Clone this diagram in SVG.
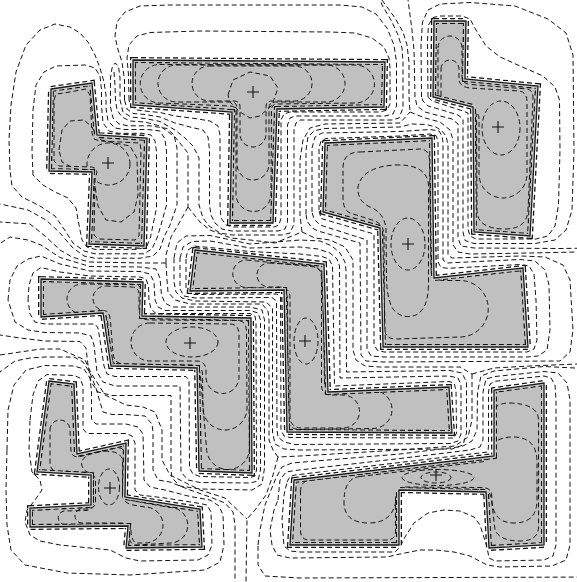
<svg xmlns="http://www.w3.org/2000/svg" width="577" height="582" viewBox="0 0 577 582">
<defs>
<style>
.c{fill:none;stroke:#141414;stroke-width:1;stroke-dasharray:5 3;stroke-linejoin:round}
.i{fill:none;stroke:#141414;stroke-width:1;stroke-dasharray:5 3;stroke-linejoin:round}
.f{fill:#c0c0c0;stroke:none}
.hug{fill:none;stroke:#141414;stroke-width:6;stroke-dasharray:5 3}
.cw{fill:none;stroke:#fff;stroke-width:3.4}
.cg{fill:none;stroke:#c0c0c0;stroke-width:3.4}
.e{fill:none;stroke:#1a1a1a;stroke-width:1.3}
.p{fill:none;stroke:#111;stroke-width:1.1}
</style>
<path id="pA" d="M51,89 L92,83 L97,135 L147,138 L144,246 L89,244 L92,172 L49,171 Z"/>
<path id="pB" d="M133,60 L385,62 L384,107 L277,109 L273,223 L230,223 L232,112 L133,105 Z"/>
<path id="pC" d="M434,21 L466,21 L465,79 L538,86 L530,236 L474,232 L473,107 L433,97 Z"/>
<path id="pD" d="M325,143 L432,138 L434,278 L523,268 L528,347 L383,347 L380,228 L323,212 Z"/>
<path id="pE" d="M195,250 L324,264 L328,392 L449,387 L452,433 L287,432 L284,290 L190,291 Z"/>
<path id="pF" d="M41,279 L143,282 L142,316 L251,318 L252,473 L199,471 L197,368 L111,366 L103,313 L41,317 Z"/>
<path id="pG" d="M49,381 L74,384 L77,454 L126,443 L125,497 L200,509 L202,547 L126,548 L128,526 L30,527 L30,508 L91,505 L91,475 L37,472 Z"/>
<path id="pH" d="M294,480 L494,456 L494,390 L544,383 L544,545 L489,548 L486,492 L399,490 L399,545 L290,545 Z"/>
<clipPath id="kA"><use href="#pA"/></clipPath>
<clipPath id="kB"><use href="#pB"/></clipPath>
<clipPath id="kC"><use href="#pC"/></clipPath>
<clipPath id="kD"><use href="#pD"/></clipPath>
<clipPath id="kE"><use href="#pE"/></clipPath>
<clipPath id="kF"><use href="#pF"/></clipPath>
<clipPath id="kG"><use href="#pG"/></clipPath>
<clipPath id="kH"><use href="#pH"/></clipPath>
</defs>
<rect width="577" height="582" fill="#fff"/>
<g id="contours">
<path class="c" d="M114,72 L115,85 L115.5,100 L117,110 L122,117 L130,121 L145,122 L160,126 L175,137 L188,153 L188,207"/>
<path class="c" d="M188,207 L200,222 L210,230 L231,238 L250,240 L275,243 L302,232"/>
<path class="c" d="M188,207 L178,225 L171,237 L166,255 L166,263"/>
<path class="c" d="M166,263 L143,263 L89,262 L72,257 L60,250 L45,236 L30,224 L0,222"/>
<path class="c" d="M166,263 L167,280 L168,292 L175,300 L190,304 L262,304 L268,311 L269,320 L269,440 L273,450 L278,457"/>
<path class="c" d="M302,232 L300,215 L300,160 L303,140 L310,128 L325,124 L400,123 L410,112"/>
<path class="c" d="M382,0 L395,18 L403,32 L407,45 L409,62 L409,97 L410,112"/>
<path class="c" d="M410,112 L425,118 L440,122 L450,130 L453,140 L453,245 L458,252 L470,254 L530,253 L577,252"/>
<path class="c" d="M302,232 L315,238 L330,240 L345,247 L353,260 L353,350 L356,360 L365,366 L380,367 L460,367 L472,374"/>
<path class="c" d="M472,374 L494,368 L530,366 L577,364"/>
<path class="c" d="M472,374 L472,420 L468,437 L455,446 L400,450 L300,456 L278,457"/>
<path class="c" d="M278,457 L273,475 L266,495 L255,510 L247,519 L246,582"/>
<path class="c" d="M0,355 L20,352 L41,349 L60,349 L85,360 L91,373 L105,395 L126,405 L143,407 L155,412 L162,430 L162,460 L170,475 L200,490 L225,498 L247,519"/>
<path class="c" d="M33,175 L32,150 L33,110 L36,85 L44,72 L56,66 L85,65 L95,68 L100,76 L101.5,90 L101.5,106 L103,123 L109,131 L118,133.3 L142,133.3 L151,135 L155,141 L156.5,152 L156.5,208 L153,225 L150.5,237 L147,246 L138,249.4 L95,249.4 L87,247 L82,240 L79,225 L76,208 L68,198 L55,192 L43,185 Z"/>
<path class="c" d="M10,170 L9,140 L11,105 L16,72 L26,45 L40,30 L55,24 L70,27 L80,33 L88,42 L95,55 L100,68 L104,82 L106,95 L106,108 L108,121 L115,128 L124,129.5 L148,129.5 L160,131 L165,139 L166.5,152 L166.5,205 L161,225 L157,238 L152,249 L144,253.8 L95,253.8 L84,251 L73,243 L64,229 L55,216 L40,206 L22,197 L12,186 Z"/>
<path class="c" d="M-20,200 L0,204 L28,210 L46,220 L60,233 L72,247 L84,256 L95,258.2 L140,258.2 L153,256 L160,249 L164,237 L170,225 L177,205 L177,148 L174,135 L167,128.5 L150,125.8 L128,125.8 L119,124 L113,118 L110.5,107 L110.5,90 L110.5,78 L112,68 L115,63 L118.5,66 L120,78 L120,100 L123,112 L131,117 L145,118.5 L160,121.5 L175,130 L185,138 L193,146 L199,158 L199,205 L203,218 L209,226 L220,233 L232,235 L282,235 L290,233 L294,224 L294,130 L296,123 L300,120 L392,120 L399,118 L403,108 L403,62 L402,48 L398,35 L391,20 L382,5 L375,-20"/>
<path class="c" d="M129,100 L128.5,75 L127,58 L129,45 L137,36 L150,32.5 L200,31 L330,32 L355,33 L372,38 L384,47 L389,58 L390,68 L390,104 L387,110 L380,112 L290,112 L284,114 L281,120 L281,218 L279,225 L274,227 L233,227 L226,225 L221,218 L220,205 L220,135 L218,126 L210,121 L195,118.5 L175,116 L160,112.5 L145,111 L137,110 L131,106 Z"/>
<path class="c" d="M124.5,100 L124.5,80 L122,62 L117.5,48 L115,36 L117,22 L125,12 L140,6 L170,5 L340,5 L362,7 L376,14 L387,28 L394,45 L396.5,62 L396.5,106 L393,114 L385,116 L295,116 L290,118 L287.5,125 L287.5,222 L285,229 L278,231 L232,231 L222,229 L215,223 L211,215 L209.5,205 L209.5,150 L208,137 L203,130 L190,127 L175,123 L160,117 L145,114.5 L133,113.5 L127,109 Z"/>
<path class="c" d="M428,97 L427.5,40 L428.5,25 L433,17.5 L440,16 L462,16 L470,19 L476,30 L486,46 L500,57 L520,66 L543,76 L555,87 L559.5,100 L560,150 L558.5,205 L555,226 L548,236 L536,239 L476,239 L470,236 L468,229 L468,113 L463,111 L440,103.5 L432,101 Z"/>
<path class="c" d="M421.5,97 L421,45 L422.5,22 L428,10 L440,4 L470,2.5 L515,6 L548,19 L566,33 L573,55 L574,150 L572,210 L566,230 L555,240 L535,243.5 L474,243.5 L465,240.5 L463,232 L463,119 L458,115 L442,110 L428,106 L423,101 Z"/>
<path class="c" d="M415,97 L414,50 L412,30 L410,15 L408,0 L406,-20 L600,-20 L600,248 L560,248.5 L474,248 L461,246 L458,238 L458,124 L452,119 L440,116 L425,112 L417,106 Z"/>
<path class="c" d="M319,210 L319,148 L321,141 L326,138.5 L400,136 L430,134 L436,135.5 L438,141 L438,262 L441,267.5 L448,268.3 L520,264.5 L529,266 L534,274 L536,300 L537,340 L534,349 L527,352 L384,352 L377,350 L374,344 L374,234 L321,218.5 Z"/>
<path class="c" d="M312,212 L312,148 L315,137 L322,133 L400,131.5 L430,129.5 L439,131 L442,136 L443,142 L443,260 L447,263 L520,259.5 L535,261 L545,270 L549,285 L550,330 L547,350 L538,356 L527,357 L384,357 L371,356 L367,349 L367,240 L320,225 L314,219 Z"/>
<path class="c" d="M306,214 L306,150 L308,137 L314,131 L324,128.5 L400,127 L412,124 L426,124.5 L436,127 L442,131 L446,136 L448,145 L448,255 L452,258 L521,256 L545,257 L563,265 L570,280 L573,330 L570,352 L560,361 L384,362 L366,361 L361,355 L360,243 L318,231 L312,228 L307,221 Z"/>
<path class="c" d="M186,258 L188,250 L194,246 L250,251.5 L300,254 L322,256.5 L329,259 L332.5,266 L334.5,386 L449,381.5 L454,383 L456,390 L456.5,433 L454,438 L448,438 L290,437.5 L284,436 L281,430 L280.5,297 L277,294 L195,294.5 L188,293 L186,288 Z"/>
<path class="c" d="M180,258 L183,247 L192,241.5 L210,241 L250,248 L300,247 L318,249 L330,253 L337,259 L339.5,266 L340,378 L449,376 L458,378 L461,385 L461,434 L458,441 L450,443.5 L295,444.5 L284,442 L278,437 L277,430 L276.5,301 L272,297.5 L195,298 L184,296 L180,289 Z"/>
<path class="c" d="M174,258 L177,243 L186,236 L210,235.5 L250,244 L300,240 L320,241 L332,246 L340,253 L345,262 L346,270 L346.5,372 L450,370.5 L462,373 L466.5,382 L466.5,433 L463,445 L452,449 L300,450 L284,449 L275,444 L272.5,432 L272.5,308 L266,302 L195,301 L182,298 L176,292 L174,282 Z"/>
<path class="c" d="M28,300 L29,285 L33,273 L41,267.5 L60,272 L90,276 L140,277 L146,279 L148.5,286 L149,300 L151,309 L156,313.5 L250,313.5 L255,316 L256,322 L256.5,470 L255,476 L250,477.5 L200,476.5 L193,474 L189.5,468 L189,380 L186,376.5 L115,376.5 L107,374 L104,366 L100,340 L98,328 L95,324 L45,324 L35,322 L30,314 Z"/>
<path class="c" d="M8,300 L10,280 L17,266 L28,259 L41,256 L60,264 L90,271 L140,271.5 L150,274 L154,282 L155,300 L158,307 L165,310.5 L250,310.5 L258,313 L260.5,320 L260.5,470 L258,481 L250,483 L200,482.5 L188,480 L181,472 L180,386 L115,386 L103,382 L97,372 L94,345 L91,336 L80,333 L45,332.5 L28,330 L15,322 Z"/>
<path class="c" d="M-20,300 L-10,250 L10,237 L28,240 L41,245 L60,257.5 L90,266.5 L140,267 L156,269 L160,278 L161.5,295 L165,303 L172,307 L250,307 L262,310 L264.5,320 L264.5,468 L262,484 L252,490 L200,489 L180,486 L172,478 L171,470 L171,395.5 L112,395.5 L98,392 L91,382 L88,365 L86,348 L80,341.5 L45,341 L20,338 L0,335 L-20,334 Z"/>
<path class="c" d="M30,420 L33,395 L38,381 L47,374.5 L74,375.5 L80,378 L83,386 L83,429 L87,433.5 L126,433.5 L132,436 L135,443 L135,490 L140,495 L165,498 L200,503.5 L207,505 L211,512 L212,545 L208,555 L198,560 L140,561 L126,558 L110,550 L60,545 L40,541 L30,535 L25,522 L27,510 L35,500 L42,490 L40,480 L32,472 L29,450 Z"/>
<path class="c" d="M7,450 L8,410 L14,385 L26,370 L45,365.5 L74,366 L84,369 L90,378 L91.5,392 L91.5,419 L96,424 L126,424 L138,427 L143,434 L144,480 L150,487 L165,490 L190,496.5 L210,500 L219,506 L223,515 L224,545 L220,562 L205,570 L130,575 L67,573 L25,565 L11,550 L7,525 L6,490 Z"/>
<path class="c" d="M-20,400 L0,372 L15,361 L30,358 L45,357 L74,357 L83,362 L90,373 L96,388 L100,402 L103,412 L112,414.5 L126,414.5 L145,416 L152,424 L153,432 L153,470 L158,480 L170,482 L190,490 L210,497 L225,503 L233,512 L235,525 L235,600 L-20,600 Z"/>
<path class="c" d="M287,482 L290,476.5 L295,475 L400,462.5 L488,452 L488.5,445 L488.5,392 L490,384 L495,381.3 L544,376 L551,378 L555,385 L556,400 L556,545 L553,556 L544,560 L495,561 L489,558 L487,547 L480,525 L474,517 L460,511 L444,510 L428,513 L414,523 L405,537 L400,547 L395,552 L300,552 L290,551 L284,546 L282,520 L284,495 Z"/>
<path class="c" d="M278,500 L280,480 L286,472 L295,470.5 L400,458.5 L470,450 L480,447 L483,440 L483,392 L486,379 L495,376.5 L544,371.5 L558,373 L567,383 L570,400 L570,545 L566,560 L552,566 L500,567 L487,565 L470,556 L454,552 L436,550 L420,550 L400,554 L387,557 L290,558 L277,555 L272,545 L270,530 L274,510 Z"/>
<path class="c" d="M258,545 L260,530 L265,505 L271,490 L276,478 L282,467 L292,463 L400,454 L462,446.5 L472,441 L477,430 L477.5,392 L481,376 L494,371 L544,366.5 L575,368 L600,380 L600,577 L300,578 L265,576 L258,565 Z"/>
</g>
<g id="region-A">
<use href="#pA" class="f"/>
<g clip-path="url(#kA)">
<ellipse class="i" cx="108.5" cy="164" rx="21.5" ry="21"/>
<path class="i" d="M59,150 L62,130 L70,121 L84,120 L92,127 L96,135 L101,140 L115,143 L130,146 L137,158 L138,195 L134,212 L121,222 L106,220 L98,206 L95,186 L89,173 L73,168 L62,162 Z"/>
<path class="i" d="M54,100 L56,94 L64,93 L86,89 L90,95 L92,133 L94,139 L100,141 L140,143 L141,150 L139,236 L135,240 L98,239 L94,235 L95,180 L97,172 L95.5,168.5 L92,167 L59,166 L54,161 Z"/>
</g>
<use href="#pA" class="hug"/><use href="#pA" class="cw"/>
<g clip-path="url(#kA)"><use href="#pA" class="cg"/></g>
<use href="#pA" class="e"/>
<path class="p" d="M102,163 H114 M108,157 V169"/>
</g>
<g id="region-B">
<use href="#pB" class="f"/>
<g clip-path="url(#kB)">
<path class="i" d="M228,95 L233,80 L250,72 L270,76 L278,88 L272,105 L260,116 L250,118 L240,112 L230,102 Z"/>
<path class="i" d="M209.5,66 L294.5,66 A17.5 17.5 0 0 1 294.5,101 L272,101 Q266,101 266,107 L266,134 A13 13 0 0 1 240,134 L240,107 Q240,101 234,101 L209.5,101 A17.5 17.5 0 0 1 209.5,66 Z"/>
<path class="i" d="M176.5,65 L326.5,65 A18.5 18.5 0 0 1 326.5,102 L275,102 Q269,102 269,108 L269,164 A16 16 0 0 1 237,164 L237,108 Q237,102 231,102 L176.5,102 A18.5 18.5 0 0 1 176.5,65 Z"/>
<path class="i" d="M159.5,64.5 L355.5,65 A19 19 0 0 1 355.5,103 L277,104 Q271.5,104 271.5,110 L271,194 A17.5 17.5 0 0 1 236,194 L236,112 Q236,106 230,106 L159.5,103 A19.25 19.25 0 0 1 159.5,64.5 Z"/>
</g>
<use href="#pB" class="hug"/><use href="#pB" class="cw"/>
<g clip-path="url(#kB)"><use href="#pB" class="cg"/></g>
<use href="#pB" class="e"/>
<path class="p" d="M247,92 H259 M253,86 V98"/>
</g>
<g id="region-C">
<use href="#pC" class="f"/>
<g clip-path="url(#kC)">
<ellipse class="i" cx="501" cy="128" rx="19" ry="27"/>
<path class="i" d="M441,69 A9 9 0 0 1 459,69 L459,80 Q460,87 470,88 L519,91 Q527,92 527,102 L527,174 A24 24 0 0 1 479,174 L479,118 Q478.5,111 470,109 L447,103 Q441,101 441,94 Z"/>
<path class="i" d="M438,48 A12 12 0 0 1 462,48 L462,78 Q463,84 471,84.5 L527,89 Q533,90 533,98 L528,210 Q527,229 505,229 Q477,229 477,210 L476.5,116 Q476,110.5 469,109 L444,102 Q438,100 438,92 Z"/>
</g>
<use href="#pC" class="hug"/><use href="#pC" class="cw"/>
<g clip-path="url(#kC)"><use href="#pC" class="cg"/></g>
<use href="#pC" class="e"/>
<path class="p" d="M492,127 H504 M498,121 V133"/>
</g>
<g id="region-D">
<use href="#pD" class="f"/>
<g clip-path="url(#kD)">
<ellipse class="i" cx="408" cy="244" rx="17" ry="26"/>
<path class="i" d="M395,165 Q427,164 428.5,185 L428.5,285 Q428,309 416,315 Q402,320 393,309 Q386.5,298 386.5,276 L386,230 Q385,213 370,207 Q357,201 358,187 Q362,167 395,165 Z"/>
<path class="i" d="M360,152 L420,149 Q429,149 429.5,160 L431,268 Q432,280 443,280.5 L460,280.5 A28.25 28.25 0 0 1 460,337 L396,339 Q384.5,339 384.5,328 L384,235 Q383.5,223 372,220 L350,213 Q343,210 343,197 L343,168 Q343,152 360,152 Z"/>
</g>
<use href="#pD" class="hug"/><use href="#pD" class="cw"/>
<g clip-path="url(#kD)"><use href="#pD" class="cg"/></g>
<use href="#pD" class="e"/>
<path class="p" d="M402,244 H414 M408,238 V250"/>
</g>
<g id="region-E">
<use href="#pE" class="f"/>
<g clip-path="url(#kE)">
<ellipse class="i" cx="306" cy="341" rx="12" ry="23"/>
<path class="i" d="M269,263 L310,265.5 Q321.5,266.5 321.5,278 L321.5,385 Q321.5,395 331,395 L343,395 A16.5 16.5 0 0 1 343,428 L302,428 Q290,428 290,416 L290,298 Q290,287 279,287 L269,287 A12 12 0 0 1 269,263 Z"/>
<path class="i" d="M246.5,260 L311,266.5 Q323,267.5 323,280 L324.5,381 Q324.5,391 334,391 L373,390.5 A19 19 0 0 1 373,428.5 L300,429.5 Q288,429.5 288,418 L287.5,299 Q287.5,289 277,289 L246.5,287.5 A13.75 13.75 0 0 1 246.5,260 Z"/>
</g>
<use href="#pE" class="hug"/><use href="#pE" class="cw"/>
<g clip-path="url(#kE)"><use href="#pE" class="cg"/></g>
<use href="#pE" class="e"/>
<path class="p" d="M299,341 H311 M305,335 V347"/>
</g>
<g id="region-F">
<use href="#pF" class="f"/>
<g clip-path="url(#kF)">
<ellipse class="i" cx="192" cy="342" rx="26" ry="15"/>
<path class="i" d="M150,323 L230,324 Q239,324 239,335 L239,377 A16.5 16.5 0 0 1 206,377 L206,370 Q205.5,361 196,361 L150,361 A19 19 0 0 1 150,323 Z"/>
<path class="i" d="M105.5,286 L132,287 Q139,287 139,295 L139,311 Q140,320 150,320 L238,320.5 Q246.5,321 246.5,332 L247,408 A22 22 0 0 1 203,408 L202.5,374 Q202,365 192,365 L124,364 Q114,364 113,353 L110.5,322 Q109.5,311 105.5,311 A12.5 12.5 0 0 1 105.5,286 Z"/>
<path class="i" d="M82,284 L135,284.5 Q141,285 141,291 L141,313 Q141.5,318.5 148,318.5 L243,319 Q249.5,319.5 249.5,327 L249.5,448 A21.5 21.5 0 0 1 206.5,448 L200.5,376 Q200,366.5 190,366.5 L121,365.5 Q111.5,365.5 110.5,354 L107.5,320 Q106.5,314 100,314 L82,314 A15 15 0 0 1 82,284 Z"/>
</g>
<use href="#pF" class="hug"/><use href="#pF" class="cw"/>
<g clip-path="url(#kF)"><use href="#pF" class="cg"/></g>
<use href="#pF" class="e"/>
<path class="p" d="M184,343 H196 M190,337 V349"/>
</g>
<g id="region-G">
<use href="#pG" class="f"/>
<g clip-path="url(#kG)">
<ellipse class="i" cx="109" cy="487" rx="10.5" ry="18"/>
<path class="i" d="M96,452 Q120,448.5 122.5,460 L122.5,495 Q123,503 133,505 L145,507 A18 18 0 0 1 145,543 L136,543 Q131.5,541 131,531 Q130,523 120,523 L82,523 A7 7 0 0 1 82,509 L89,509 Q95.5,508.5 95.5,500 L95.5,481 Q95,473.5 87,472 Q80,467 82,461 Q85,455 96,452 Z"/>
<path class="i" d="M50,430 A10 10 0 0 1 70,430 L71,451 Q72,458 80,456.5 L116,448 Q124.5,446.5 124.5,455 L124.5,492 Q125,499.5 134,501 L170,507.5 A17.75 17.75 0 0 1 170,543 L137,545 Q129.5,545 129.5,537 L129.5,531 Q129,525 120,525 L65,524.5 A6.75 6.75 0 0 1 65,511 L86,510.5 Q93.5,510 93.5,500 L93.5,482 Q93,474 84,472.5 L57,471.5 Q50,470.5 50,462 Z"/>
</g>
<use href="#pG" class="hug"/><use href="#pG" class="cw"/>
<g clip-path="url(#kG)"><use href="#pG" class="cg"/></g>
<use href="#pG" class="e"/>
<path class="p" d="M104,488 H116 M110,482 V494"/>
</g>
<g id="region-H">
<use href="#pH" class="f"/>
<g clip-path="url(#kH)">
<ellipse class="i" cx="436" cy="477.5" rx="15" ry="5.5"/>
<ellipse class="i" cx="438" cy="477.5" rx="36" ry="8"/>
<path class="i" d="M360,476.5 L484,461.5 Q489.5,460.5 490,453 Q492,437 513,437 Q537,437 537,462 L537,500 Q537,523 514,523 Q493,523 492,500 L491.5,494 Q491,487.5 481,487.5 L405,487 Q397.5,487 396.5,497 Q394,523 369,523 Q344,523 344,502 Q344,478 360,476.5 Z"/>
<path class="i" d="M300.5,492 Q300.5,481.5 309,480.2 L486,459.1 Q491.5,458 491.5,450 L492,415 Q493,403 510,403 Q538.5,404 538.5,420 L538.5,528 Q537.5,541 520,541 Q500,541 495,530 L491.5,500 Q491,489.8 480,489.8 L404,489 Q395.5,489 395.5,498 L395.5,532 Q395.5,540 386,540 L309,540 Q300.5,540 300.5,530 Z"/>
</g>
<use href="#pH" class="hug"/><use href="#pH" class="cw"/>
<g clip-path="url(#kH)"><use href="#pH" class="cg"/></g>
<use href="#pH" class="e"/>
<path class="p" d="M430,475 H442 M436,469 V481"/>
</g>
</svg>
